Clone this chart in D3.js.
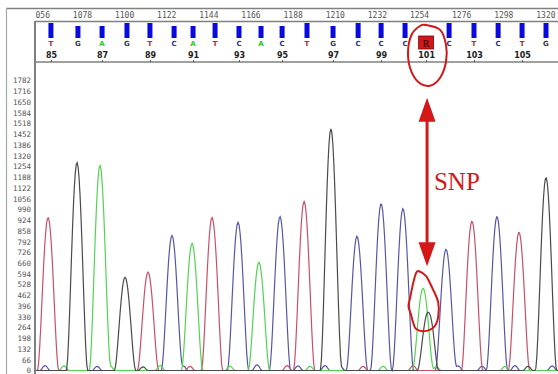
<!DOCTYPE html>
<html>
<head>
<meta charset="utf-8">
<script src="https://cdn.jsdelivr.net/npm/d3@7"></script>
<style>
  html, body { margin: 0; padding: 0; background: #fff; overflow: hidden; }
</style>
</head>
<body>
<svg id="chart" width="558" height="374"></svg>
<script>
// ruler (scan numbers) and intensity labels
const scanLabels = [1056, 1078, 1100, 1122, 1144, 1166, 1188, 1210, 1232, 1254, 1276, 1298, 1320];
const yLabels = [0, 66, 132, 198, 264, 330, 396, 462, 528, 594, 660, 726, 792, 858, 924, 990,
  1056, 1122, 1188, 1254, 1320, 1386, 1452, 1518, 1584, 1650, 1716, 1782];

// base calls (first base is #85)
const bases = ["T", "G", "A", "G", "T", "C", "A", "T", "C", "A", "C", "T", "G", "C", "C", "C", "R", "C", "T", "C", "T", "G"];
const baseScans = [1061.8, 1075.9, 1088.5, 1101.5, 1113.5, 1126.1, 1136.0, 1147.5, 1160.0, 1171.5, 1182.5,
  1195.5, 1209.1, 1222.2, 1234.2, 1246.7, 1257.7, 1269.7, 1282.7, 1295.3, 1307.8, 1320.3];
const baseQual = [40, 32, 32, 40, 40, 32, 32, 40, 32, 32, 32, 40, 32, 40, 40, 40, 0, 40, 40, 40, 40, 40];
const baseNumbers = [85, 87, 89, 91, 93, 95, 97, 99, 101, 103, 105];

// main peaks of the trace
const peakBase = ["T", "G", "A", "G", "T", "C", "A", "T", "C", "A", "C", "T", "G", "C", "C", "C", "A", "G", "C", "T", "C", "T", "G"];
const peakScans = [1060.3, 1075.4, 1087.4, 1100.5, 1112.5, 1125.0, 1135.5, 1145.9, 1159.5, 1170.4, 1181.4, 1194.0,
  1208.0, 1221.6, 1234.2, 1245.6, 1256.1, 1258.7, 1268.1, 1281.7, 1294.7, 1306.2, 1320.3];
const peakHeights = [940, 1278, 1260, 573, 604, 830, 781, 940, 910, 665, 946, 1039,
  1485, 825, 1025, 995, 505, 358, 745, 917, 946, 850, 1186];

// small bumps along the baseline
const noiseBase = ["C", "A", "C", "A", "G", "A", "C", "T", "T", "A", "C", "T", "C", "A",
  "C", "G", "T", "A", "T", "G", "C", "T", "C", "A", "C", "G", "A", "C"];
const noiseScans = [1058.7, 1068.6, 1085.9, 1092.6, 1109.9, 1118.8, 1130.8, 1134.4, 1149.0, 1155.3, 1169.4, 1185.1, 1190.8, 1197.1,
  1204.9, 1212.7, 1224.8, 1235.2, 1250.9, 1261.3, 1274.4, 1279.1, 1286.9, 1298.9, 1304.1, 1310.9, 1263.0, 1323.5];
const noiseHeights = [30, 28, 25, 30, 22, 30, 28, 25, 30, 26, 35, 30, 28, 25,
  30, 28, 25, 26, 30, 25, 28, 30, 26, 25, 30, 26, 22, 28];

const traceColor = { A: "#52d452", C: "#5656a8", G: "#4a4a4a", T: "#c8506a" };
const letterColor = { A: "#1ec81e", C: "#2a2a9a", G: "#333", T: "#cc2020", R: "#300" };
const red = "#d41818";

const svg = d3.select("#chart");
const x = d3.scaleLinear().domain([1054, 1325]).range([36, 555]);
const y = d3.scaleLinear().domain([0, 1782]).range([370.5, 80.5]);
const qual = d3.scaleLinear().domain([0, 40]).range([0, 15]);

const defs = svg.append("defs");
defs.append("clipPath").attr("id", "plotClip")
  .append("rect").attr("x", 36).attr("y", 63).attr("width", 522).attr("height", 311);
defs.append("clipPath").attr("id", "rulerClip")
  .append("rect").attr("x", 36).attr("y", 0).attr("width", 522).attr("height", 24);

// frame lines
const frame = svg.append("g").attr("stroke", "#808080").attr("fill", "none");
frame.append("line").attr("x1", 6).attr("x2", 558).attr("y1", 8.5).attr("y2", 8.5).attr("stroke-width", 1.5);
frame.append("line").attr("x1", 6.5).attr("x2", 6.5).attr("y1", 8).attr("y2", 374).attr("stroke-width", 1.2).attr("stroke", "#aaa");
frame.append("line").attr("x1", 35).attr("x2", 35).attr("y1", 21).attr("y2", 374).attr("stroke-width", 2);
frame.append("line").attr("x1", 35).attr("x2", 558).attr("y1", 21.5).attr("y2", 21.5).attr("stroke-width", 1.5);
frame.append("line").attr("x1", 35).attr("x2", 558).attr("y1", 62).attr("y2", 62).attr("stroke-width", 1.5);

// scan ruler
const ruler = svg.append("g")
  .attr("clip-path", "url(#rulerClip)")
  .append("g")
  .attr("transform", "translate(0,21.5)")
  .call(d3.axisTop(x).tickValues(scanLabels).tickSize(0).tickPadding(4).tickFormat(d3.format("d")));
ruler.select(".domain").remove();
ruler.selectAll("text").attr("fill", "#555").style("font", "8px 'DejaVu Sans Mono'");

// intensity axis
const yAxis = svg.append("g")
  .attr("transform", "translate(35,0)")
  .call(d3.axisLeft(y).tickValues(yLabels).tickSize(0).tickPadding(4).tickFormat(d3.format("d")));
yAxis.select(".domain").remove();
yAxis.selectAll("text").attr("fill", "#555").style("font", "7.5px 'DejaVu Sans Mono'");

// base call bars
svg.append("g")
  .selectAll("rect")
  .data(bases.map((b, i) => ({ b, s: baseScans[i], q: baseQual[i] })).filter(d => d.q > 0))
  .join("rect")
  .attr("x", d => x(d.s) - 2.5)
  .attr("y", d => 38 - qual(d.q))
  .attr("width", 5)
  .attr("height", d => qual(d.q))
  .attr("fill", "#0a0ae0");

// ambiguous call box
const rIndex = bases.indexOf("R");
svg.append("rect")
  .attr("x", x(baseScans[rIndex]) - 7.5).attr("y", 36)
  .attr("width", 15).attr("height", 13)
  .attr("fill", "#cc1a1a").attr("stroke", "#8a0000").attr("stroke-width", 0.8);

// base letters
svg.append("g")
  .selectAll("text")
  .data(bases.map((b, i) => ({ b, s: baseScans[i] })))
  .join("text")
  .attr("x", d => x(d.s))
  .attr("y", d => d.b === "R" ? 46.5 : 45.5)
  .attr("text-anchor", "middle")
  .attr("fill", d => letterColor[d.b])
  .style("font", d => d.b === "R" ? "10px 'Liberation Serif'" : "bold 7px 'DejaVu Sans'")
  .text(d => d.b);

// base numbering
const numAxis = svg.append("g")
  .attr("transform", "translate(0,62)")
  .call(d3.axisTop(x)
    .tickValues(baseNumbers.map(n => baseScans[n - 85]))
    .tickSize(2).tickPadding(2)
    .tickFormat((d, i) => baseNumbers[i]));
numAxis.select(".domain").remove();
numAxis.selectAll("line").attr("stroke", "#555");
numAxis.selectAll("text").attr("fill", "#222").style("font", "bold 8px 'DejaVu Sans'");

// traces: one curve per dye, summed from its peaks (compact peak shape)
const halfMain = 5.6, halfNoise = 2.6;
const bump = (s, c, h, w) => { const u = (s - c) / w; return Math.abs(u) < 1 ? h * (1 - u * u) ** 2 : 0; };
const samples = d3.range(1040, 1335, 0.5);
const line = d3.line().x(d => x(d[0])).y(d => y(d[1]));
const traces = svg.append("g").attr("clip-path", "url(#plotClip)");
["C", "T", "A", "G"].forEach(ch => {
  const pk = peakBase.map((b, i) => ({ b, s: peakScans[i], h: peakHeights[i] })).filter(d => d.b === ch);
  const nz = noiseBase.map((b, i) => ({ b, s: noiseScans[i], h: noiseHeights[i] })).filter(d => d.b === ch);
  const pts = samples.map(s => {
    let v = 0;
    pk.forEach(p => { v += bump(s, p.s, p.h, halfMain); });
    nz.forEach(p => { v += bump(s, p.s, p.h, halfNoise); });
    return [s, v];
  });
  traces.append("path")
    .attr("d", line(pts))
    .attr("fill", "none")
    .attr("stroke", traceColor[ch])
    .attr("stroke-width", 1.2);
});

// annotations (in scan / intensity units)
const loop = d3.line().x(d => x(d[0])).y(d => y(d[1])).curve(d3.curveCardinalClosed);
const callLoop = [[1257.7, 2123], [1265.0, 2093], [1268.1, 2001], [1268.1, 1897], [1265.0, 1799],
  [1259.7, 1750], [1253.5, 1774], [1249.3, 1860], [1248.3, 1970], [1250.3, 2068], [1254.5, 2117]];
const peakLoop = [[1254.0, 610], [1257.7, 580], [1261.0, 505], [1264.0, 420], [1264.0, 330], [1262.0, 270],
  [1257.1, 242], [1252.5, 255], [1250.8, 300], [1249.8, 345], [1248.5, 395], [1249.5, 455], [1251.0, 540], [1252.5, 600]];
svg.append("path").attr("d", loop(callLoop)).attr("fill", "none").attr("stroke", red).attr("stroke-width", 2);
svg.append("path").attr("d", loop(peakLoop)).attr("fill", "none").attr("stroke", red).attr("stroke-width", 2);

const arrowScan = 1258.2, arrowTop = 1676, arrowBottom = 640;
const ax = x(arrowScan), ay1 = y(arrowTop), ay2 = y(arrowBottom);
svg.append("line")
  .attr("x1", ax).attr("x2", ax).attr("y1", ay1 + 20).attr("y2", ay2 - 20)
  .attr("stroke", red).attr("stroke-width", 3);
svg.append("path")
  .attr("d", `M${ax},${ay1} L${ax - 8.5},${ay1 + 24} L${ax + 8.5},${ay1 + 24} Z M${ax},${ay2} L${ax - 8.5},${ay2 - 24} L${ax + 8.5},${ay2 - 24} Z`)
  .attr("fill", red);
svg.append("text")
  .attr("x", x(1261.8)).attr("y", y(1109))
  .attr("fill", red)
  .style("font", "25px 'Liberation Serif'")
  .text("SNP");
</script>
</body>
</html>
